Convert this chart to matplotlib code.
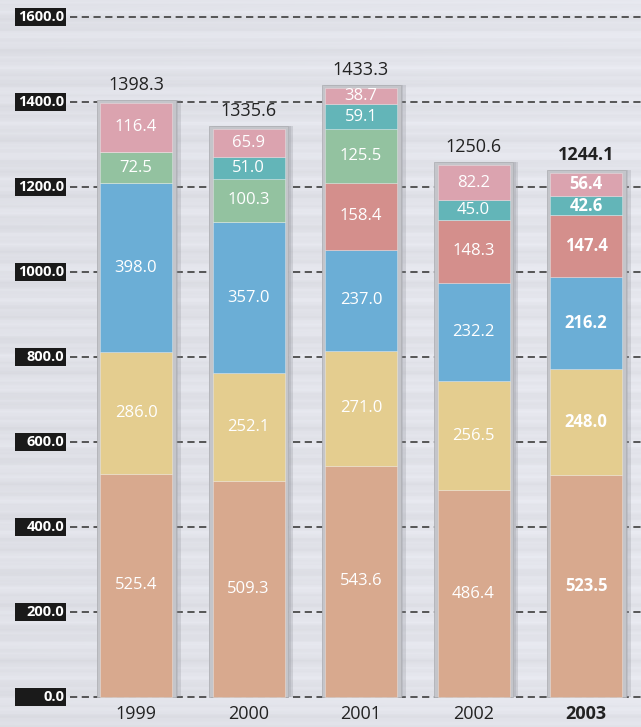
import numpy as np
import matplotlib
matplotlib.use("Agg")
import matplotlib.pyplot as plt
from matplotlib.patches import Rectangle

years = ["1999", "2000", "2001", "2002", "2003"]
s1 = [525.4, 509.3, 543.6, 486.4, 523.5]
s2 = [286.0, 252.1, 271.0, 256.5, 248.0]
s3 = [398.0, 357.0, 237.0, 232.2, 216.2]
s4 = [0.0, 0.0, 158.4, 148.3, 147.4]
s5 = [72.5, 100.3, 125.5, 0.0, 0.0]
s6 = [0.0, 51.0, 59.1, 45.0, 42.6]
s7 = [116.4, 65.9, 38.7, 82.2, 56.4]
totals = ["1398.3", "1335.6", "1433.3", "1250.6", "1244.1"]
yticks = [0, 200, 400, 600, 800, 1000, 1200, 1400, 1600]

series = [s1, s2, s3, s4, s5, s6, s7]
colors = ["#D8A98E", "#E4CD8F", "#6BAED6", "#D48F8C", "#93C2A0", "#63B5B8", "#DBA3AF"]

plt.rcParams['font.family'] = ['Open Sans', 'DejaVu Sans']

W, H = 641, 727
fig = plt.figure(figsize=(W / 100, H / 100), dpi=100)
ax = fig.add_axes([0, 0, 1, 1])

PXX = 112.5   # px per category
X0 = 136      # px of first center
PXY = 0.425   # px per unit
Y0 = 697      # px of zero (from top)

def xd(px):
    return (px - X0) / PXX

def yd(py):
    return (Y0 - py) / PXY

ax.set_xlim(xd(0), xd(W))
ax.set_ylim(yd(H), yd(0))
ax.axis("off")

# background
gy = np.linspace(0, 1, 400)
gx = np.linspace(0, 1, 300)
GX, GY = np.meshgrid(gx, gy)
streak = 0.012 * np.sin(GY * 157.0) + 0.010 * np.sin(GY * 411.0 + 1.3) + 0.006 * np.sin(GY * 903.0)
base = 0.885 + 0.02 * GX + streak
bg = np.dstack([base * 0.99, base * 0.995, base * 1.025])
bg = np.clip(bg, 0, 1)
ax.imshow(bg, extent=[xd(0), xd(W), yd(H), yd(0)], aspect="auto", zorder=0)

# gridlines
for t in yticks:
    ax.plot([xd(70), xd(W)], [t, t], color="#4a4a4a", lw=1.3,
            ls=(0, (4, 2.5)), zorder=1)
    ax.add_patch(Rectangle((xd(15), t - 9 / PXY), (66 - 15) / PXX, 18 / PXY,
                           facecolor="#1a1a1a", edgecolor="none", zorder=3))
    ax.text(xd(64), t, f"{t:.1f}", color="white", fontsize=10.5,
            fontweight="bold", ha="right", va="center", zorder=4)

x = np.arange(len(years))
bw = 72 / PXX
fw = 79 / PXX
sums = np.sum(np.array(series), axis=0)

for i in x:
    top = sums[i]
    ax.add_patch(Rectangle((i - fw / 2 + 5 / PXX, 0), fw, top + 3 / PXY,
                           facecolor="#8a8c94", alpha=0.25, edgecolor="none", zorder=1.5))
    ax.add_patch(Rectangle((i - fw / 2 + 2.5 / PXX, 0), fw, top + 3 / PXY,
                           facecolor="#9a9ca4", alpha=0.3, edgecolor="none", zorder=1.6))
    ax.add_patch(Rectangle((i - fw / 2, 0), fw, top + 3 / PXY,
                           facecolor="#c4c5ca", edgecolor="#b0b1b6", lw=0.6, zorder=2))

bottom = np.zeros(len(years))
for s, c in zip(series, colors):
    vals = np.array(s)
    ax.bar(x, vals, bw, bottom=bottom, color=c, edgecolor=(1, 1, 1, 0.35),
           linewidth=0.6, zorder=3)
    for i, v in enumerate(vals):
        if v > 0:
            ax.text(i, bottom[i] + v / 2, f"{v:.1f}", color="white",
                    fontsize=12, ha="center", va="center", zorder=5,
                    fontweight="bold" if i == 4 else "normal")
    bottom = bottom + vals

for i in x:
    ax.text(i, sums[i] + 18 / PXY, totals[i], color="#222222", fontsize=13,
            ha="center", va="center", zorder=5,
            fontweight="bold" if i == 4 else "normal")
    ax.text(i, yd(714), years[i], color="#222222", fontsize=13,
            ha="center", va="center", zorder=5,
            fontweight="bold" if i == 4 else "normal")

fig.savefig("out.png", dpi=100)
